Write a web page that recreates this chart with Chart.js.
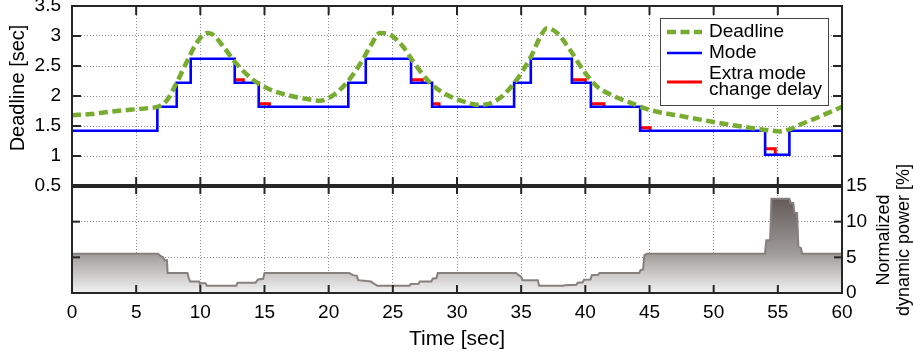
<!DOCTYPE html>
<html>
<head>
<meta charset="utf-8">
<script src="https://cdn.jsdelivr.net/npm/chart.js@4.4.1/dist/chart.umd.min.js"></script>
<style>
  html, body { margin: 0; padding: 0; background: #fff; }
  #wrap { position: relative; width: 913px; height: 358px; }
  #wrap canvas { position: absolute; left: 0; top: 0; }
</style>
</head>
<body>
<div id="wrap">
  <canvas id="cPower" width="913" height="358"></canvas>
  <canvas id="cDeadline" width="913" height="358"></canvas>
</div>
<script>
// values, time in seconds
const timeTicks = [0, 5, 10, 15, 20, 25, 30, 35, 40, 45, 50, 55, 60];
const deadlineTicks = [0.5, 1, 1.5, 2, 2.5, 3, 3.5];
const powerTicks = [0, 5, 10, 15];

const deadlineT = [0, 1.5, 3, 4.5, 6, 6.8, 7.4, 8.2, 8.9, 9.7, 10.5, 11.0, 11.8, 12.8, 14.1,
  15.2, 16.7, 18.3, 19.3, 20.4, 21.4, 22.5, 23.3, 24.0, 24.8, 25.8, 26.6, 27.9, 29.2, 30.5,
  31.8, 33.1, 34.4, 35.7, 36.5, 37.0, 37.8, 38.8, 39.9, 40.9, 42.2, 43.5, 45.0, 47.6, 50.2,
  52.8, 54.2, 55.2, 56.0, 56.7, 58.3, 60];
const deadlineV = [1.68, 1.70, 1.74, 1.77, 1.80, 1.83, 1.93, 2.24, 2.55, 2.88, 3.05, 3.02, 2.82, 2.54, 2.27,
  2.13, 2.02, 1.95, 1.92, 2.02, 2.22, 2.55, 2.85, 3.05, 3.02, 2.82, 2.57, 2.22, 2.02, 1.91,
  1.85, 1.93, 2.20, 2.63, 2.99, 3.13, 3.05, 2.77, 2.41, 2.16, 2.00, 1.89, 1.77, 1.66, 1.56,
  1.47, 1.43, 1.41, 1.45, 1.52, 1.66, 1.82];

// mode switches (level holds until next switch)
const modeT = [0, 6.65, 8.16, 9.25, 12.68, 14.55, 21.53, 22.89, 26.42, 28.06, 34.45, 35.75, 38.95, 40.43, 44.27, 54.01, 55.9, 60];
const modeV = [1.42, 1.82, 2.22, 2.62, 2.22, 1.82, 2.22, 2.62, 2.22, 1.82, 2.22, 2.62, 2.22, 1.82, 1.42, 1.02, 1.42, 1.42];

// extra mode change delay marks
const delayStart = [12.68, 14.55, 26.42, 28.06, 38.95, 40.43, 44.27, 54.01];
const delayEnd   = [13.35, 15.38, 27.3, 28.6, 40.0, 41.45, 45.05, 54.8];
const delayLevel = [2.22, 1.82, 2.22, 1.82, 2.22, 1.82, 1.42, 1.02];
const delayTop   = [2.27, 1.87, 2.27, 1.87, 2.27, 1.87, 1.47, 1.12];

// normalized dynamic power [%]
const powerT = [0, 6.7, 6.9, 7.1, 7.2, 7.4, 7.45, 9.0, 9.1, 9.2, 9.9, 9.95, 10.4, 10.5, 12.8, 12.9, 14.3, 14.5, 14.9, 15.0,
  21.6, 21.9, 22.2, 22.3, 23.3, 23.5, 23.8, 26.3, 26.4, 27.0, 27.1, 28.0, 28.1, 28.4, 28.5,
  34.6, 34.8, 35.0, 35.1, 36.3, 36.4, 38.3, 38.4, 39.3, 39.4, 39.8, 39.9, 40.4, 40.5, 41.0, 41.1,
  44.2, 44.3, 44.5, 44.6, 44.8, 54.0, 54.1, 54.4, 54.5, 55.9, 56.0, 56.2, 56.3, 56.5, 56.6, 56.8, 56.9, 60];
const powerV = [5.5, 5.5, 5.2, 5.0, 4.6, 4.6, 2.8, 2.8, 2.1, 1.6, 1.6, 1.35, 1.35, 1.0, 1.0, 1.45, 1.45, 1.9, 2.0, 2.8,
  2.8, 2.5, 2.4, 1.8, 1.6, 1.35, 1.0, 1.0, 1.25, 1.3, 1.6, 1.6, 2.0, 2.1, 2.8,
  2.8, 2.5, 2.3, 1.8, 1.8, 1.0, 1.0, 1.1, 1.15, 1.45, 1.5, 1.85, 1.9, 2.5, 2.55, 2.8,
  2.8, 3.2, 3.3, 5.3, 5.5, 5.5, 7.4, 7.4, 13.2, 13.2, 12.6, 12.6, 11.2, 11.2, 6.5, 6.3, 5.5, 5.5];

const FONT = "'Liberation Sans', Arial, Helvetica, sans-serif";
const GREEN = '#77ac30', BLUE = '#0000ff', RED = '#ff0000', FRAME = '#262626';

const xy = (ts, vs) => ts.map((t, i) => ({ x: t, y: vs[i] }));
const delayPts = [];
delayStart.forEach((t0, i) => {
  delayPts.push({ x: t0, y: delayTop[i] }, { x: delayEnd[i], y: delayTop[i] },
                { x: delayEnd[i], y: delayLevel[i] }, { x: delayEnd[i], y: null });
});

function ticksFrom(list) { return s => { s.ticks = list.map(v => ({ value: v })); }; }
function fixW(w) { return s => { s.width = w; s.paddingTop = 0; s.paddingBottom = 0; }; }
function fixH(h) { return s => { s.height = h; s.paddingLeft = 0; s.paddingRight = 0; }; }
const plain = v => String(v);

const gridOpts = { color: '#8c8c8c', lineWidth: 1, drawTicks: false };
const borderOpts = { display: false, dash: [1, 2] };

// frame, inward tick marks, titles and legend
const decor = {
  id: 'decor',
  afterDraw(chart, args, o) {
    const { ctx, chartArea: a, scales } = chart;
    const xs = scales.x, ys = scales.y;
    ctx.save();
    ctx.strokeStyle = FRAME;
    ctx.lineWidth = 2;
    ctx.strokeRect(a.left, a.top, a.right - a.left, a.bottom - a.top);
    const seg = (x1, y1, x2, y2) => { ctx.beginPath(); ctx.moveTo(x1, y1); ctx.lineTo(x2, y2); ctx.stroke(); };
    const L = o.tick;
    xs.ticks.forEach(t => {
      const p = xs.getPixelForValue(t.value);
      if (p < a.left + 2 || p > a.right - 2) return;
      seg(p, a.top, p, a.top + L); seg(p, a.bottom, p, a.bottom - L);
    });
    ys.ticks.forEach(t => {
      const p = ys.getPixelForValue(t.value);
      if (p < a.top + 2 || p > a.bottom - 2) return;
      seg(a.left, p, a.left + L, p); seg(a.right, p, a.right - L, p);
    });
    if (o.separator) { ctx.lineWidth = 4; seg(a.left - 1, a.bottom, a.right + 1, a.bottom); }

    (o.titles || []).forEach(tt => {
      ctx.save();
      ctx.translate(tt.x, tt.y);
      ctx.rotate(-Math.PI / 2);
      ctx.fillStyle = '#000';
      ctx.font = tt.size + 'px ' + FONT;
      ctx.textAlign = 'center';
      ctx.textBaseline = 'middle';
      tt.lines.forEach((s, i) => ctx.fillText(s, 0, i * tt.lh));
      ctx.restore();
    });

    if (o.legend) {
      const g = o.legend;
      ctx.fillStyle = '#fff';
      ctx.fillRect(g.x, g.y, g.w, g.h);
      ctx.strokeStyle = '#444';
      ctx.lineWidth = 1;
      ctx.strokeRect(g.x + 0.5, g.y + 0.5, g.w, g.h);
      ctx.font = '19px ' + FONT;
      ctx.textBaseline = 'middle';
      ctx.textAlign = 'left';
      chart.data.datasets.forEach((ds, i) => {
        const ly = g.rows[i];
        ctx.strokeStyle = ds.borderColor;
        ctx.lineWidth = ds.borderWidth;
        ctx.setLineDash(ds.borderDash || []);
        seg(g.x + 7, ly, g.x + 42, ly);
        ctx.setLineDash([]);
        ctx.fillStyle = '#000';
        const lines = ds.label.split('\n');
        const off = (lines.length - 1) * g.lh / 2;
        lines.forEach((s, k) => ctx.fillText(s, g.x + 49, ly - off + k * g.lh));
      });
    }
    ctx.restore();
  }
};

function powerFill(c) {
  const chart = c.chart;
  if (!chart.chartArea) return 'rgba(0,0,0,0)';
  const y = chart.scales.y;
  const g = chart.ctx.createLinearGradient(0, y.getPixelForValue(14), 0, y.getPixelForValue(0));
  g.addColorStop(0, '#5d5552');
  g.addColorStop(0.61, '#a09c9a');
  g.addColorStop(1, '#f2f2f2');
  return g;
}

new Chart(document.getElementById('cPower'), {
  type: 'line',
  data: {
    datasets: [{
      label: 'Normalized dynamic power',
      data: xy(powerT, powerV),
      borderColor: '#86817e', borderWidth: 2, pointRadius: 0,
      fill: 'origin', backgroundColor: powerFill, tension: 0
    }]
  },
  options: {
    responsive: false, animation: false, events: [],
    layout: { padding: { top: 186, left: 72, right: 0, bottom: 0 }, autoPadding: false },
    plugins: {
      legend: { display: false }, tooltip: { enabled: false },
      decor: { tick: 8, titles: [{ lines: ['Normalized', 'dynamic power [%]'], x: 884, y: 240, size: 18, lh: 20 }] }
    },
    scales: {
      x: {
        type: 'linear', min: 0, max: 60, afterBuildTicks: ticksFrom(timeTicks),
        ticks: { color: '#000', font: { family: FONT, size: 19 }, padding: 8, maxRotation: 0, callback: plain },
        grid: gridOpts, border: borderOpts,
        title: { display: true, text: 'Time [sec]', color: '#000', font: { family: FONT, size: 21 }, padding: { top: 0, bottom: 6 } },
        afterFit: fixH(65)
      },
      y: {
        position: 'right', min: 0, max: 15, afterBuildTicks: ticksFrom(powerTicks),
        ticks: { color: '#000', font: { family: FONT, size: 19 }, padding: 4, callback: plain },
        grid: gridOpts, border: borderOpts,
        afterFit: fixW(71)
      }
    }
  },
  plugins: [decor]
});

new Chart(document.getElementById('cDeadline'), {
  type: 'line',
  data: {
    datasets: [
      { label: 'Deadline', data: xy(deadlineT, deadlineV), borderColor: GREEN, borderWidth: 4.5,
        borderDash: [9, 4.5], cubicInterpolationMode: 'monotone', pointRadius: 0, fill: false },
      { label: 'Mode', data: xy(modeT, modeV), stepped: 'before', borderColor: BLUE, borderWidth: 2.6,
        pointRadius: 0, fill: false },
      { label: 'Extra mode\nchange delay', data: delayPts, borderColor: RED, borderWidth: 3,
        pointRadius: 0, fill: false, spanGaps: false }
    ]
  },
  options: {
    responsive: false, animation: false, events: [],
    layout: { padding: { top: 6, right: 71, left: 0, bottom: 0 }, autoPadding: false },
    plugins: {
      legend: { display: false }, tooltip: { enabled: false },
      decor: {
        tick: 9, separator: true,
        titles: [{ lines: ['Deadline [sec]'], x: 18, y: 88, size: 20, lh: 22 }],
        legend: { x: 660, y: 18, w: 168, h: 87, rows: [32, 53, 82], lh: 16 }
      }
    },
    scales: {
      x: {
        type: 'linear', min: 0, max: 60, afterBuildTicks: ticksFrom(timeTicks),
        ticks: { display: false }, grid: gridOpts, border: borderOpts,
        afterFit: fixH(172)
      },
      y: {
        min: 0.5, max: 3.5, afterBuildTicks: ticksFrom(deadlineTicks),
        ticks: { color: '#000', font: { family: FONT, size: 19 }, padding: 11, callback: plain },
        grid: gridOpts, border: borderOpts,
        afterFit: fixW(72)
      }
    }
  },
  plugins: [decor]
});
</script>
</body>
</html>
